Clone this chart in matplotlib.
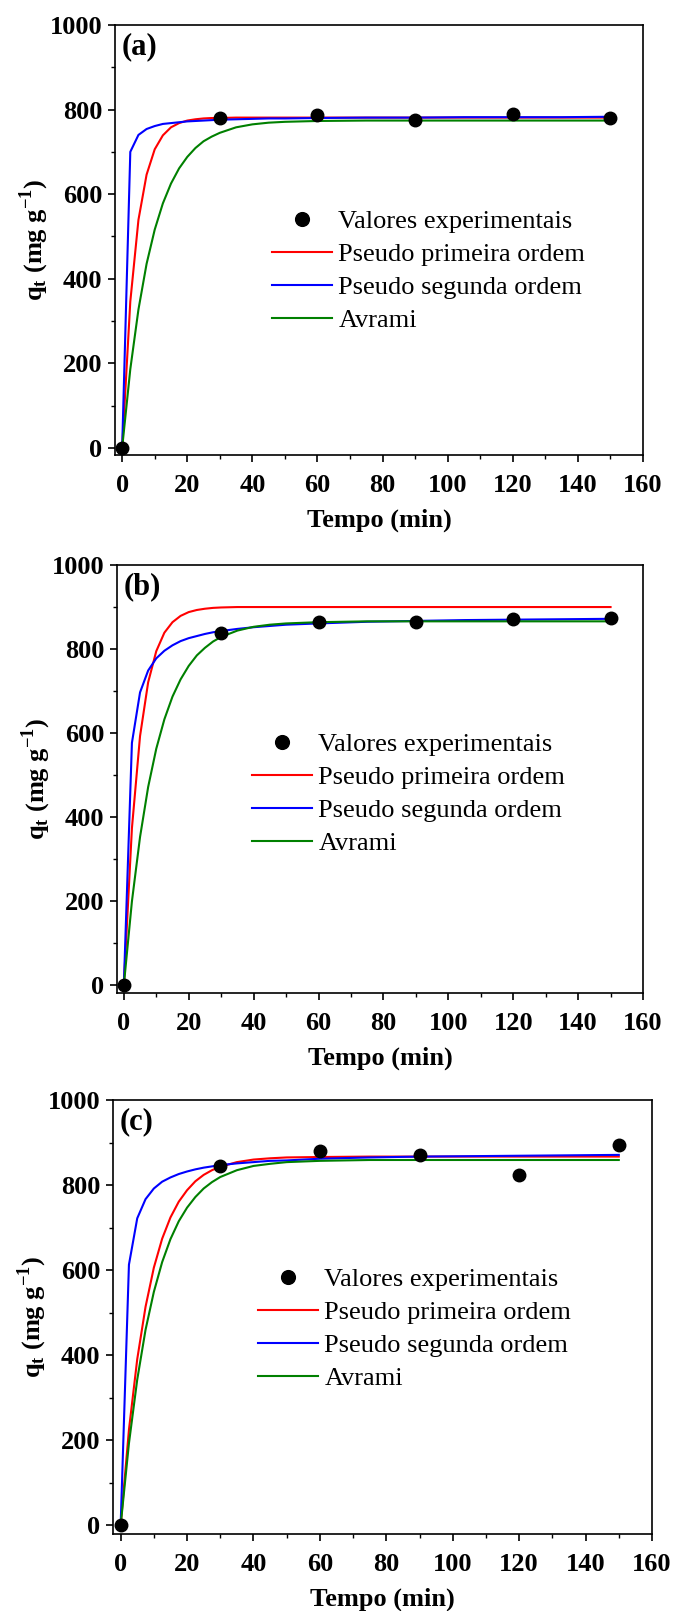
import numpy as np
import matplotlib
matplotlib.use('Agg')
import matplotlib.pyplot as plt
from matplotlib.ticker import MultipleLocator

plt.rcParams['font.family'] = 'Liberation Serif'
plt.rcParams['mathtext.fontset'] = 'custom'
plt.rcParams['mathtext.rm'] = 'Liberation Serif'
plt.rcParams['mathtext.bf'] = 'Liberation Serif:bold'

# experimental points (time in min, q_t in mg/g)
t_exp = [0, 30, 60, 90, 120, 150]
q_exp_a = [0, 781, 786, 775, 790, 779]
q_exp_b = [0, 838, 864, 864, 871, 875]
q_exp_c = [0, 845, 879, 870, 824, 895]

# fitted model curves
t_fit = [0, 2.5, 5, 7.5, 10, 12.5, 15, 17.5, 20, 22.5, 25, 27.5, 30,
         35, 40, 45, 50, 60, 75, 90, 105, 120, 135, 150]

pfo_a = [0, 346, 539, 646, 706, 739, 758, 768, 774, 777, 779, 780, 780,
         781, 781, 781, 781, 781, 781, 781, 781, 781, 781, 781]
pso_a = [0, 700, 740, 754, 761, 766, 768, 770, 772, 773, 774, 775, 776,
         777, 778, 779, 779, 780, 781, 781, 782, 782, 782, 783]
avr_a = [0, 186, 327, 435, 516, 578, 625, 661, 688, 709, 725, 736, 745,
         758, 765, 769, 771, 773, 774, 774, 774, 774, 774, 774]

pfo_b = [0, 374, 593, 721, 795, 839, 864, 879, 888, 893, 896, 898, 899,
         900, 900, 900, 900, 900, 900, 900, 900, 900, 900, 900]
pso_b = [0, 577, 697, 749, 778, 796, 809, 819, 826, 831, 836, 840, 843,
         848, 852, 855, 858, 861, 865, 867, 869, 870, 871, 872]
avr_b = [0, 200, 353, 472, 563, 633, 687, 728, 760, 785, 803, 818, 829,
         844, 853, 858, 861, 864, 866, 866, 866, 866, 866, 866]

pfo_c = [0, 225, 391, 514, 606, 674, 724, 761, 788, 809, 824, 835, 843,
         854, 860, 863, 865, 866, 867, 867, 867, 867, 867, 867]
pso_c = [0, 613, 722, 767, 792, 808, 818, 826, 832, 837, 841, 844, 847,
         851, 854, 857, 858, 862, 865, 867, 868, 869, 870, 871]
avr_c = [0, 193, 343, 460, 549, 619, 673, 715, 747, 772, 792, 807, 819,
         835, 845, 850, 854, 857, 859, 859, 859, 859, 859, 859]

labels = ['Valores experimentais', 'Pseudo primeira ordem',
          'Pseudo segunda ordem', 'Avrami']
panels = ['(a)', '(b)', '(c)']

W, H = 673, 1611
fig = plt.figure(figsize=(W / 100, H / 100), dpi=100)

# axes boxes in pixels: left, right, top, bottom ; legend anchor (x, y top)
boxes = [(115, 643, 25, 455), (117, 643, 565, 993), (113, 652, 1100, 1534)]
xmins = [-2.2, -2.1, -2.3]
ymins = [-17, -18, -20]
leg_anchor = [(272, 210), (252, 733), (258, 1268)]

data = [(q_exp_a, pfo_a, pso_a, avr_a),
        (q_exp_b, pfo_b, pso_b, avr_b),
        (q_exp_c, pfo_c, pso_c, avr_c)]

fs = 19
for i, (q_exp, pfo, pso, avr) in enumerate(data):
    l, r, t, b = boxes[i]
    ax = fig.add_axes([l / W, 1 - b / H, (r - l) / W, (b - t) / H])
    h1, = ax.plot(t_exp, q_exp, 'o', color='black', ms=9, zorder=5)
    h2, = ax.plot(t_fit, pfo, color='#ff0000', lw=1.5)
    h3, = ax.plot(t_fit, pso, color='#0000ff', lw=1.5)
    h4, = ax.plot(t_fit, avr, color='#008000', lw=1.5)

    ax.set_xlim(xmins[i], 160)
    ax.set_ylim(ymins[i], 1000)
    ax.xaxis.set_major_locator(MultipleLocator(20))
    ax.xaxis.set_minor_locator(MultipleLocator(10))
    ax.yaxis.set_major_locator(MultipleLocator(200))
    ax.yaxis.set_minor_locator(MultipleLocator(100))
    ax.tick_params(which='major', direction='out', length=5, width=1.2,
                   labelsize=fs)
    ax.tick_params(axis='x', which='major', pad=9)
    ax.tick_params(axis='y', which='major', pad=4)
    ax.tick_params(which='minor', direction='out', length=3, width=1.0)
    for lab in ax.get_xticklabels() + ax.get_yticklabels():
        lab.set_fontweight('bold')
    for sp in ax.spines.values():
        sp.set_linewidth(1.2)

    ax.set_xlabel('Tempo (min)', fontsize=fs, fontweight='bold', labelpad=8)
    ax.set_ylabel(r'$\mathbf{q_t}$ (mg g$^{\mathbf{-1}}$)', fontsize=fs,
                  fontweight='bold', labelpad=-1)
    ax.text(0.012, 0.95, panels[i], transform=ax.transAxes, fontsize=22,
            fontweight='bold', va='center', ha='left')

    ax_w, ax_h = r - l, b - t
    lx, ly = leg_anchor[i]
    ax.legend([h1, h2, h3, h4], labels, loc='upper left',
              bbox_to_anchor=((lx - l) / ax_w, (b - ly) / ax_h),
              frameon=False, fontsize=fs, borderpad=0, borderaxespad=0,
              handlelength=2.27, handletextpad=0.25, labelspacing=0.36,
              numpoints=1, markerscale=1.1)

fig.savefig('out.png', dpi=100)
